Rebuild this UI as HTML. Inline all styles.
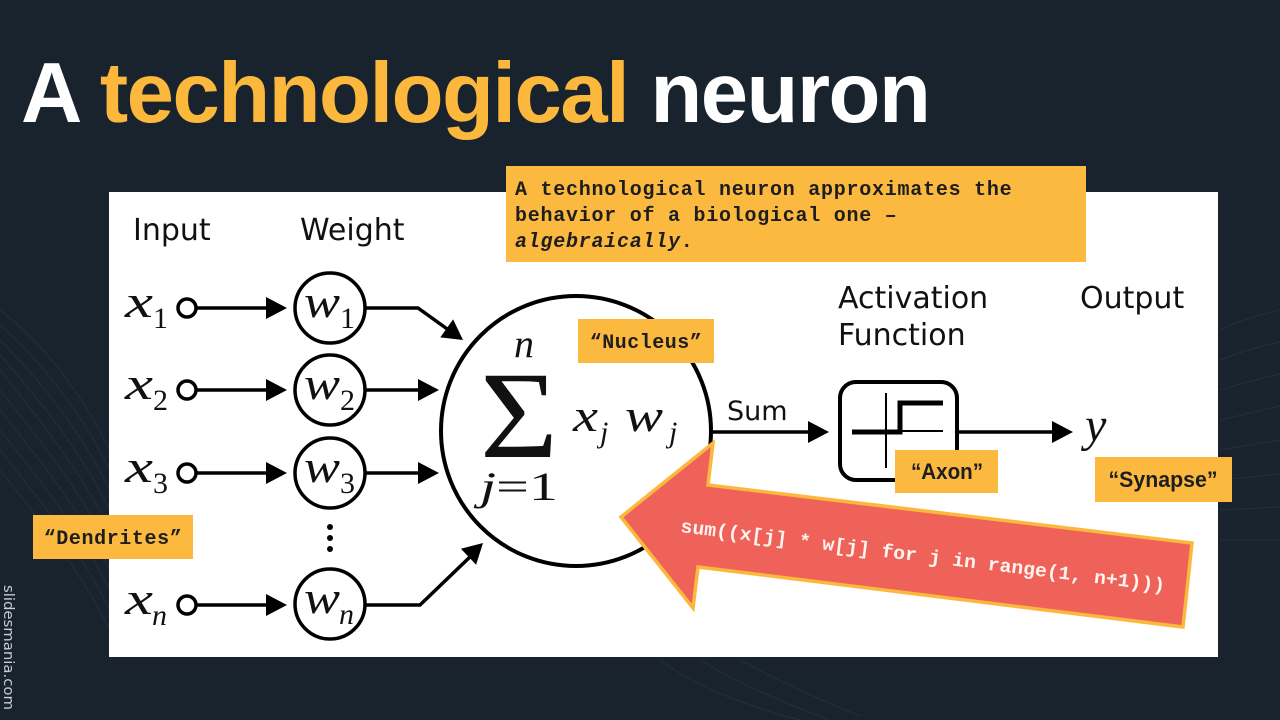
<!DOCTYPE html>
<html>
<head>
<meta charset="utf-8">
<style>
  html, body { margin: 0; padding: 0; background: #19232e; }
  body { width: 1280px; height: 720px; overflow: hidden; }
  svg { display: block; }
</style>
</head>
<body>
<svg width="1280" height="720" viewBox="0 0 1280 720" xmlns="http://www.w3.org/2000/svg">
  <rect x="0" y="0" width="1280" height="720" fill="#19232e"/>

  <!-- faint background curves -->
  <g fill="none" stroke="#2b3b4b" stroke-width="1" opacity="0.5">
    <path d="M0,310 C40,340 80,390 110,450"/>
    <path d="M0,325 C40,360 80,410 110,470"/>
    <path d="M0,340 C40,380 80,430 110,490"/>
    <path d="M0,355 C40,400 80,450 110,510"/>
    <path d="M0,370 C40,420 80,470 110,530"/>
    <path d="M0,390 C40,440 80,490 110,550"/>
    <path d="M0,410 C40,460 80,510 110,570"/>
    <path d="M0,430 C40,480 80,530 110,590"/>
    <path d="M0,450 C40,500 80,550 110,610"/>
    <path d="M0,470 C40,520 80,570 110,630"/>
    <path d="M1220,330 C1240,320 1260,315 1280,310"/>
    <path d="M1220,360 C1240,352 1260,346 1280,342"/>
    <path d="M1220,390 C1240,384 1260,378 1280,374"/>
    <path d="M1220,420 C1240,416 1260,410 1280,406"/>
    <path d="M1220,450 C1240,447 1260,443 1280,440"/>
    <path d="M1220,480 C1240,478 1260,476 1280,474"/>
    <path d="M1220,510 C1240,509 1260,508 1280,507"/>
    <path d="M1220,540 C1240,540 1260,540 1280,540"/>
    <path d="M660,660 C700,690 760,710 800,720"/>
    <path d="M700,660 C740,685 790,705 830,720"/>
    <path d="M740,660 C780,682 820,700 860,716"/>
  </g>

  <!-- Title -->
  <text x="21" y="122" font-family="'Liberation Sans', sans-serif" font-weight="bold" font-size="85" letter-spacing="-1.5" fill="#ffffff">A <tspan fill="#fbb83c">technological</tspan> neuron</text>

  <!-- White panel -->
  <rect x="109" y="192" width="1109" height="465" fill="#ffffff"/>

  <!-- Headings -->
  <g font-family="'DejaVu Sans', sans-serif" font-size="30" fill="#111111">
    <text x="133" y="240">Input</text>
    <text x="300" y="240">Weight</text>
    <text x="838" y="308">Activation</text>
    <text x="838" y="345">Function</text>
    <text x="1080" y="308">Output</text>
    <text x="727" y="420" font-size="27">Sum</text>
  </g>

  <!-- Input rows -->
  <g stroke="#000" stroke-width="3.5" fill="none">
    <circle cx="187" cy="308" r="9"/>
    <circle cx="187" cy="390" r="9"/>
    <circle cx="187" cy="473" r="9"/>
    <circle cx="187" cy="605" r="9"/>
    <line x1="196" y1="308" x2="270" y2="308"/>
    <line x1="196" y1="390" x2="270" y2="390"/>
    <line x1="196" y1="473" x2="270" y2="473"/>
    <line x1="196" y1="605" x2="270" y2="605"/>
    <circle cx="330" cy="308" r="35"/>
    <circle cx="330" cy="390" r="35"/>
    <circle cx="330" cy="473" r="35"/>
    <circle cx="330" cy="604" r="35"/>
    <polyline points="365,308 418,308 450,331"/>
    <line x1="365" y1="390" x2="420" y2="390"/>
    <line x1="365" y1="473" x2="420" y2="473"/>
    <polyline points="365,605 420,605 472,555"/>
    <circle cx="576" cy="431" r="135" stroke-width="4"/>
    <line x1="712" y1="432" x2="810" y2="432"/>
    <rect x="840" y="382" width="117" height="98" rx="16" stroke-width="4"/>
    <line x1="957" y1="432" x2="1054" y2="432"/>
  </g>
  <g fill="#000">
    <polygon points="266,297 287,308 266,319"/>
    <polygon points="266,379 287,390 266,401"/>
    <polygon points="266,462 287,473 266,484"/>
    <polygon points="266,594 287,605 266,616"/>
    <polygon points="440.3,337.4 453.1,319.4 463,340"/>
    <polygon points="418,379 439,390 418,401"/>
    <polygon points="418,462 439,473 418,484"/>
    <polygon points="476.1,564.8 460.9,548.8 483,543"/>
    <polygon points="808,421 829,432 808,443"/>
    <polygon points="1052,421 1073,432 1052,443"/>
    <circle cx="330" cy="527" r="3"/>
    <circle cx="330" cy="538" r="3"/>
    <circle cx="330" cy="549" r="3"/>
  </g>

  <!-- activation step glyph -->
  <g stroke="#000" fill="none">
    <line x1="886" y1="393" x2="886" y2="468" stroke-width="2"/>
    <line x1="852" y1="431" x2="943" y2="431" stroke-width="2"/>
    <path d="M852,432 H900 V403 H943" stroke-width="5"/>
  </g>

  <!-- Math labels -->
  <g font-family="'Liberation Serif', 'DejaVu Serif', serif" fill="#111">
    <text x="125" y="317" font-size="46" font-style="italic" textLength="28" lengthAdjust="spacingAndGlyphs">x</text>
    <text x="153" y="328" font-size="30">1</text>
    <text x="125" y="399" font-size="46" font-style="italic" textLength="28" lengthAdjust="spacingAndGlyphs">x</text>
    <text x="153" y="410" font-size="30">2</text>
    <text x="125" y="482" font-size="46" font-style="italic" textLength="28" lengthAdjust="spacingAndGlyphs">x</text>
    <text x="153" y="493" font-size="30">3</text>
    <text x="125" y="614" font-size="46" font-style="italic" textLength="28" lengthAdjust="spacingAndGlyphs">x</text>
    <text x="152" y="625" font-size="30" font-style="italic">n</text>

    <text x="304" y="317" font-size="46" font-style="italic" textLength="36" lengthAdjust="spacingAndGlyphs">w</text>
    <text x="340" y="328" font-size="30">1</text>
    <text x="304" y="399" font-size="46" font-style="italic" textLength="36" lengthAdjust="spacingAndGlyphs">w</text>
    <text x="340" y="410" font-size="30">2</text>
    <text x="304" y="482" font-size="46" font-style="italic" textLength="36" lengthAdjust="spacingAndGlyphs">w</text>
    <text x="340" y="493" font-size="30">3</text>
    <text x="304" y="613" font-size="46" font-style="italic" textLength="36" lengthAdjust="spacingAndGlyphs">w</text>
    <text x="339" y="624" font-size="30" font-style="italic">n</text>

    <text x="514" y="357" font-size="40" font-style="italic">n</text>
    <text x="480" y="457" font-size="124" textLength="78" lengthAdjust="spacingAndGlyphs">Σ</text>
    <text x="480" y="500" font-size="40" textLength="78" lengthAdjust="spacingAndGlyphs"><tspan font-style="italic">j</tspan>=1</text>

    <text x="573" y="431" font-size="46" font-style="italic" textLength="25" lengthAdjust="spacingAndGlyphs">x</text>
    <text x="600" y="442" font-size="30" font-style="italic">j</text>
    <text x="625" y="431" font-size="46" font-style="italic" textLength="38" lengthAdjust="spacingAndGlyphs">w</text>
    <text x="669" y="442" font-size="30" font-style="italic">j</text>

    <text x="1085" y="441" font-size="48" font-style="italic">y</text>
  </g>

  <!-- Red arrow -->
  <polygon points="621,517 713,443 708,485 1192,543 1183,627 698,567 693,608" fill="#ef6259" stroke="#fbb83c" stroke-width="3.5" stroke-linejoin="miter"/>
  <text x="680" y="532" transform="rotate(7 680 532)" font-family="'Liberation Mono', monospace" font-weight="bold" font-size="19" fill="#fff4f0" textLength="488" lengthAdjust="spacingAndGlyphs">sum((x[j] * w[j] for j in range(1, n+1)))</text>

  <!-- Top explanation box -->
  <rect x="506" y="166" width="580" height="96" fill="#fbb940"/>
  <g font-family="'Liberation Mono', monospace" font-weight="bold" font-size="20" fill="#1e1e1e" letter-spacing="0.75">
    <text x="515" y="195">A technological neuron approximates the</text>
    <text x="515" y="221">behavior of a biological one –</text>
    <text x="515" y="247"><tspan font-style="italic">algebraically</tspan>.</text>
  </g>

  <!-- Orange labels -->
  <rect x="578" y="319" width="136" height="44" fill="#fbb940"/>
  <text x="646" y="348" text-anchor="middle" font-family="'Liberation Mono', monospace" font-weight="bold" font-size="20" fill="#1e1e1e" letter-spacing="0.5">“Nucleus”</text>

  <rect x="33" y="515" width="160" height="44" fill="#fbb940"/>
  <text x="113" y="544" text-anchor="middle" font-family="'Liberation Mono', monospace" font-weight="bold" font-size="20" fill="#1e1e1e" letter-spacing="0.6">“Dendrites”</text>

  <rect x="895" y="450" width="103" height="43" fill="#fbb940"/>
  <text x="947" y="479" text-anchor="middle" font-family="'Liberation Sans', sans-serif" font-weight="bold" font-size="22" fill="#1e1e1e" textLength="72" lengthAdjust="spacingAndGlyphs">“Axon”</text>

  <rect x="1095" y="457" width="137" height="45" fill="#fbb940"/>
  <text x="1163" y="487" text-anchor="middle" font-family="'Liberation Sans', sans-serif" font-weight="bold" font-size="22" fill="#1e1e1e" textLength="109" lengthAdjust="spacingAndGlyphs">“Synapse”</text>

  <!-- watermark -->
  <text transform="translate(4,585) rotate(90)" x="0" y="0" font-family="'DejaVu Sans', sans-serif" font-size="14" fill="#c9ced4" textLength="125" lengthAdjust="spacingAndGlyphs">slidesmania.com</text>
</svg>
</body>
</html>
